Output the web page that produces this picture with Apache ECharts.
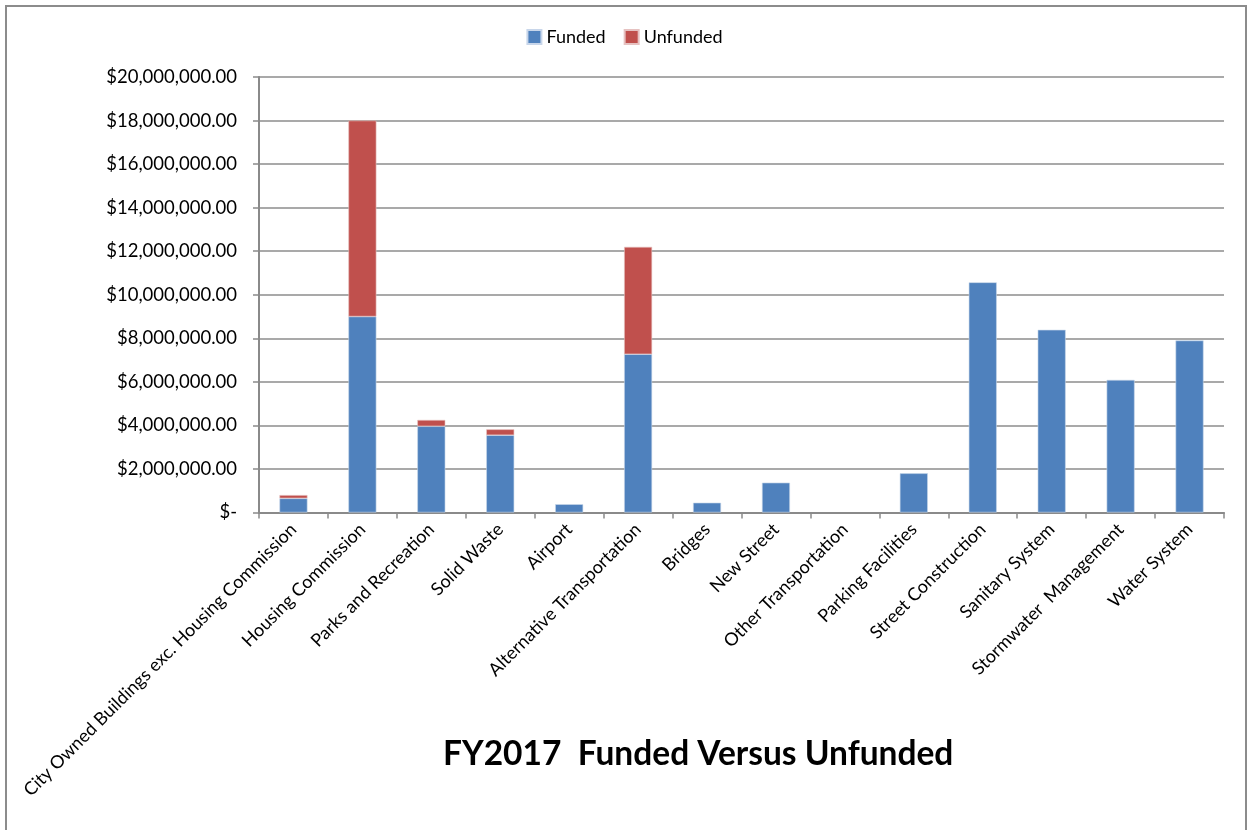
<!DOCTYPE html>
<html>
<head>
<meta charset="utf-8">
<script src="https://cdn.jsdelivr.net/npm/echarts@6/dist/echarts.min.js"></script>
<style>
html,body{margin:0;padding:0;background:#fff;}
#chart{width:1249px;height:830px;}
</style>
</head>
<body>
<div id="chart"></div>
<script>
const categories = [
  "City Owned Buildings exc. Housing Commission",
  "Housing Commission",
  "Parks and Recreation",
  "Solid Waste",
  "Airport",
  "Alternative Transportation",
  "Bridges",
  "New Street",
  "Other Transportation",
  "Parking Facilities",
  "Street Construction",
  "Sanitary System",
  "Stormwater  Management",
  "Water System"
];
const funded = [650000, 9000000, 3960000, 3550000, 380000, 7270000, 450000, 1370000, 0, 1800000, 10570000, 8390000, 6090000, 7900000];
const unfunded = [150000, 9000000, 290000, 270000, 0, 4930000, 0, 0, 0, 0, 0, 0, 0, 0];
const seriesNames = ["Funded", "Unfunded"];
const titleText = "FY2017  Funded Versus Unfunded";

const FONT = "Lato, 'Liberation Sans', sans-serif";
const chart = echarts.init(document.getElementById('chart'), null, {renderer: 'canvas'});

function money(v) {
  if (v === 0) return "$-";
  return "$" + v.toLocaleString('en-US', {minimumFractionDigits: 2, maximumFractionDigits: 2});
}
// zero values draw no bar at all
const noZero = arr => arr.map(v => (v === 0 ? '-' : v));

chart.setOption({
  animation: false,
  backgroundColor: '#ffffff',
  graphic: [{
    type: 'rect',
    shape: {x: 6, y: 6, width: 1240, height: 840},
    style: {fill: 'none', stroke: '#8c8c8c', lineWidth: 2},
    silent: true
  }],
  title: {
    text: titleText,
    left: 438,
    top: 732,
    textStyle: {fontFamily: FONT, fontSize: 33.5, fontWeight: 'bold', color: '#000'}
  },
  legend: {
    data: seriesNames,
    top: 23,
    left: 'center',
    itemWidth: 14,
    itemHeight: 14,
    itemGap: 18,
    icon: 'rect',
    textStyle: {fontFamily: FONT, fontSize: 18, color: '#000'}
  },
  grid: {left: 259, right: 25, top: 77, bottom: 317.5, containLabel: false},
  xAxis: {
    type: 'category',
    data: categories,
    boundaryGap: true,
    axisLine: {lineStyle: {color: '#8a8a8a', width: 2}},
    axisTick: {show: true, alignWithLabel: false, length: 6, lineStyle: {color: '#8a8a8a', width: 1.5}},
    axisLabel: {
      interval: 0,
      rotate: 45,
      margin: 14,
      fontFamily: FONT,
      fontSize: 18,
      color: '#000'
    }
  },
  yAxis: {
    type: 'value',
    min: 0,
    max: 20000000,
    interval: 2000000,
    axisLine: {show: true, lineStyle: {color: '#8a8a8a', width: 2}},
    axisTick: {show: true, length: 6, lineStyle: {color: '#8a8a8a', width: 1.5}},
    splitLine: {lineStyle: {color: '#8c8c8c', width: 1.5}},
    axisLabel: {
      formatter: money,
      margin: 22,
      fontFamily: FONT,
      fontSize: 18.5,
      color: '#000'
    }
  },
  series: [
    {
      name: seriesNames[0],
      type: 'bar',
      stack: 'total',
      data: noZero(funded),
      barWidth: 28,
      itemStyle: {color: '#4F81BD', borderColor: '#c8d6ea', borderWidth: 0.6}
    },
    {
      name: seriesNames[1],
      type: 'bar',
      stack: 'total',
      data: noZero(unfunded),
      barWidth: 28,
      itemStyle: {color: '#C0504D', borderColor: '#e6c2c1', borderWidth: 0.6}
    }
  ]
});
</script>
</body>
</html>
